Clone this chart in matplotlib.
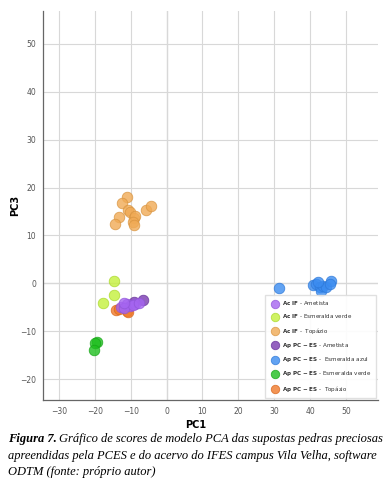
import matplotlib
matplotlib.use("Agg")
import matplotlib.pyplot as plt

# PCA scores (PC1, PC3)
acif_ametista_x = [-12.6, -11.2, -10.3, -8.8, -11.9, -9.3, -7.8, -12.0]
acif_ametista_y = [-4.9, -4.4, -4.8, -4.2, -5.2, -4.6, -4.1, -4.0]

acif_esm_verde_x = [-14.6, -14.6, -17.7]
acif_esm_verde_y = [0.6, -2.4, -4.0]

acif_topazio_x = [-11.2, -12.4, -10.7, -10.3, -13.4, -14.5, -9.2, -8.7, -9.3, -9.2, -5.7, -4.5]
acif_topazio_y = [18.1, 16.7, 15.3, 14.9, 13.8, 12.4, 13.7, 14.0, 12.9, 12.2, 15.3, 16.1]

appc_ametista_x = [-6.5, -9.0]
appc_ametista_y = [-3.5, -3.9]

appc_esm_azul_x = [31.3, 40.8, 41.7, 42.7, 43.1, 43.6, 44.5, 45.9, 45.5, 42.2]
appc_esm_azul_y = [-1.0, -0.4, -0.1, -0.8, -1.5, -0.5, -0.8, 0.6, -0.1, 0.2]

appc_esm_verde_x = [-19.4, -20.0, -20.3]
appc_esm_verde_y = [-12.2, -12.5, -13.8]

appc_topazio_x = [-14.0, -11.0, -10.7, -13.2]
appc_topazio_y = [-5.6, -5.7, -6.0, -5.3]

AP = r"$\bf{Ap\ PC\ {-}\ ES}$"
AC = r"$\bf{Ac\ IF}$"
series = [
    (appc_topazio_x, appc_topazio_y, "#f07a2a", "#d8651a", AP + " -  Topázio"),
    (acif_topazio_x, acif_topazio_y, "#f0aa55", "#d89440", AC + " -  Topázio"),
    (acif_esm_verde_x, acif_esm_verde_y, "#c4f03c", "#aad82a", AC + " - Esmeralda verde"),
    (appc_esm_verde_x, appc_esm_verde_y, "#1fbf1f", "#15a515", AP + " - Esmeralda verde"),
    (appc_ametista_x, appc_ametista_y, "#7a3bb0", "#66309a", AP + " - Ametista"),
    (acif_ametista_x, acif_ametista_y, "#a565f0", "#9055d8", AC + " - Ametista"),
    (appc_esm_azul_x, appc_esm_azul_y, "#3b8cf0", "#2d78d8", AP + " -  Esmeralda azul"),
]
legend_order = [5, 2, 1, 4, 6, 3, 0]

fig = plt.figure(figsize=(3.91, 4.87), dpi=100)
ax = fig.add_axes([0.110, 0.179, 0.857, 0.798])

handles = []
for x, y, c, ec, lab in series:
    h = ax.scatter(x, y, s=58, color=c, alpha=0.8, edgecolors=ec, linewidths=0.6,
                   label=lab, zorder=3)
    handles.append(h)

ax.set_xlim(-34.5, 59)
ax.set_ylim(-24.3, 56.8)
ax.set_xticks([-30, -20, -10, 0, 10, 20, 30, 40, 50])
ax.set_yticks([-20, -10, 0, 10, 20, 30, 40, 50])
ax.grid(True, color="#d8d8d8", linewidth=0.8, zorder=0)
ax.axhline(0, color="#8a8a8a", linewidth=0.8, zorder=1)
ax.axvline(0, color="#8a8a8a", linewidth=0.8, zorder=1)
ax.tick_params(length=0, labelsize=5.5, labelcolor="#555555", pad=5)
for side in ["top", "right"]:
    ax.spines[side].set_visible(False)
for side in ["left", "bottom"]:
    ax.spines[side].set_color("#666666")
    ax.spines[side].set_linewidth(0.9)

leg = ax.legend([handles[i] for i in legend_order],
                [series[i][4] for i in legend_order],
                loc="lower right", bbox_to_anchor=(1.0, 0.0), fontsize=4.1,
                frameon=True, fancybox=False, edgecolor="#dddddd",
                labelspacing=0.92, handletextpad=0.3, borderpad=0.8,
                borderaxespad=0.3, scatterpoints=1, markerscale=0.8)
leg.get_frame().set_alpha(0.9)
for t in leg.get_texts():
    t.set_color("#333333")

fig.text(0.500, 0.127, "PC1", ha="center", va="center", fontsize=7, fontweight="bold")
fig.text(0.038, 0.578, "PC3", ha="center", va="center", fontsize=7,
         fontweight="bold", rotation=90)

cap_font = "Liberation Serif"
cap_size = 9.0
t1 = fig.text(0.020, 0.0925, "Figura 7.", fontsize=cap_size, family=cap_font,
              style="italic", fontweight="bold", va="baseline")
fig.canvas.draw()
bb = t1.get_window_extent()
fig.text(bb.x1 / fig.bbox.width + 0.006, 0.0925,
         "Gráfico de scores de modelo PCA das supostas pedras preciosas",
         fontsize=cap_size, family=cap_font, style="italic", va="baseline")
fig.text(0.020, 0.058,
         "apreendidas pela PCES e do acervo do IFES campus Vila Velha, software",
         fontsize=cap_size, family=cap_font, style="italic", va="baseline")
fig.text(0.020, 0.024, "ODTM (fonte: próprio autor)",
         fontsize=cap_size, family=cap_font, style="italic", va="baseline")

fig.savefig("out.png", dpi=100)
